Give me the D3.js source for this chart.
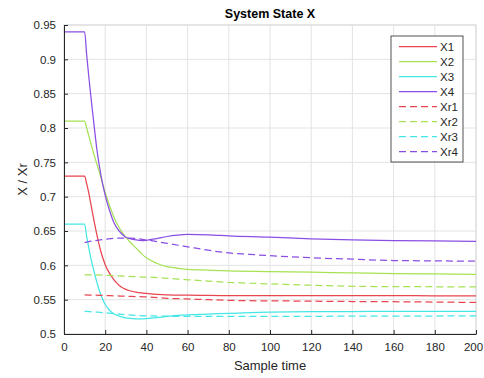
<!DOCTYPE html>
<html>
<head>
<meta charset="utf-8">
<script src="https://cdn.jsdelivr.net/npm/d3@7"></script>
<style>
  body { margin: 0; background: #fff; }
  text { font-family: "Liberation Sans", Arial, sans-serif; }
</style>
</head>
<body>
<svg id="chart" width="484" height="378"></svg>
<script>
// sample times for the states
const tState = [0, 10, 11, 12, 13, 14, 16, 18, 20, 22, 24, 26, 28, 30, 32, 35, 38, 40, 45, 50, 55, 60, 70, 80, 100, 120, 140, 160, 180, 200];
const x1 = [0.73, 0.73, 0.719, 0.706, 0.69, 0.674, 0.644, 0.619, 0.601, 0.589, 0.58, 0.573, 0.568, 0.565, 0.563, 0.561, 0.5597, 0.559, 0.5578, 0.557, 0.5567, 0.5565, 0.5562, 0.556, 0.556, 0.556, 0.556, 0.5558, 0.5557, 0.5557];
const x2 = [0.81, 0.81, 0.8, 0.789, 0.778, 0.767, 0.747, 0.727, 0.706, 0.688, 0.672, 0.659, 0.649, 0.641, 0.634, 0.625, 0.616, 0.611, 0.603, 0.598, 0.596, 0.594, 0.593, 0.592, 0.591, 0.59, 0.589, 0.588, 0.5875, 0.587];
const x3 = [0.66, 0.66, 0.642, 0.626, 0.611, 0.598, 0.575, 0.556, 0.543, 0.535, 0.53, 0.527, 0.525, 0.5235, 0.5228, 0.5222, 0.522, 0.5225, 0.524, 0.5255, 0.527, 0.528, 0.529, 0.53, 0.532, 0.5325, 0.5327, 0.533, 0.533, 0.533];
const x4 = [0.94, 0.94, 0.907, 0.876, 0.847, 0.82, 0.768, 0.73, 0.702, 0.681, 0.664, 0.653, 0.646, 0.641, 0.639, 0.637, 0.636, 0.6365, 0.639, 0.642, 0.644, 0.645, 0.6445, 0.643, 0.641, 0.6385, 0.637, 0.636, 0.6355, 0.635];

// reference values start at t = 10
const tRef = [10, 15, 20, 25, 30, 35, 40, 50, 60, 70, 80, 90, 100, 120, 140, 160, 180, 200];
const xr1 = [0.557, 0.5565, 0.556, 0.5555, 0.555, 0.5545, 0.554, 0.552, 0.551, 0.55, 0.549, 0.5485, 0.5483, 0.5478, 0.5473, 0.547, 0.5465, 0.546];
const xr2 = [0.586, 0.586, 0.5855, 0.585, 0.584, 0.5835, 0.583, 0.581, 0.579, 0.577, 0.575, 0.574, 0.573, 0.571, 0.5695, 0.569, 0.5688, 0.5685];
const xr3 = [0.533, 0.532, 0.531, 0.5295, 0.528, 0.527, 0.5265, 0.526, 0.5255, 0.5255, 0.5255, 0.5255, 0.5255, 0.5257, 0.526, 0.526, 0.5262, 0.5265];
const xr4 = [0.633, 0.636, 0.638, 0.6395, 0.6395, 0.639, 0.637, 0.632, 0.627, 0.622, 0.618, 0.616, 0.614, 0.611, 0.609, 0.607, 0.6065, 0.606];

const xTicks = d3.range(0, 201, 20);
const yTicks = [0.5, 0.55, 0.6, 0.65, 0.7, 0.75, 0.8, 0.85, 0.9, 0.95];

const colors = ["#e8454f", "#a6e254", "#45e6e6", "#8a4ee2"];
const series = [
  { name: "X1", t: tState, v: x1, color: colors[0], dash: null },
  { name: "X2", t: tState, v: x2, color: colors[1], dash: null },
  { name: "X3", t: tState, v: x3, color: colors[2], dash: null },
  { name: "X4", t: tState, v: x4, color: colors[3], dash: null },
  { name: "Xr1", t: tRef, v: xr1, color: colors[0], dash: "7,4" },
  { name: "Xr2", t: tRef, v: xr2, color: colors[1], dash: "7,4" },
  { name: "Xr3", t: tRef, v: xr3, color: colors[2], dash: "7,4" },
  { name: "Xr4", t: tRef, v: xr4, color: colors[3], dash: "7,4" }
];

const marge = { top: 25, bottom: 44, left: 64, right: 8 };
const width = 484, height = 378;
const w = width - marge.left - marge.right;
const h = height - marge.top - marge.bottom;

const svg = d3.select("#chart");
const g = svg.append("g").attr("transform", `translate(${marge.left},${marge.top})`);

const xScale = d3.scaleLinear().domain([0, 200]).range([0, w]);
const yScale = d3.scaleLinear().domain([0.5, 0.95]).range([h, 0]);

// grid
g.append("g").selectAll("line").data(xTicks).enter().append("line")
  .attr("x1", d => xScale(d)).attr("x2", d => xScale(d))
  .attr("y1", 0).attr("y2", h)
  .attr("stroke", "#e3e3e3").attr("stroke-width", 1);
g.append("g").selectAll("line").data(yTicks).enter().append("line")
  .attr("x1", 0).attr("x2", w)
  .attr("y1", d => yScale(d)).attr("y2", d => yScale(d))
  .attr("stroke", "#e3e3e3").attr("stroke-width", 1);

// box top/right
g.append("rect").attr("x", 0).attr("y", 0).attr("width", w).attr("height", h)
  .attr("fill", "none").attr("stroke", "#d9d9d9");

// lines
const line = d3.line().curve(d3.curveMonotoneX);
series.forEach(s => {
  g.append("path")
    .attr("d", line(s.t.map((t, i) => [xScale(t), yScale(s.v[i])])))
    .attr("fill", "none")
    .attr("stroke", s.color)
    .attr("stroke-width", 1.25)
    .attr("stroke-dasharray", s.dash);
});

// axes (ticks point inwards like matlab)
const xAxis = d3.axisBottom(xScale).tickValues(xTicks).tickSize(-4).tickPadding(9).tickSizeOuter(0);
const yAxis = d3.axisLeft(yScale).tickValues(yTicks).tickSize(-4).tickPadding(8).tickSizeOuter(0)
  .tickFormat(d => d3.format("")(+d.toFixed(2)));

const gx = g.append("g").attr("transform", `translate(0,${h})`).call(xAxis);
const gy = g.append("g").call(yAxis);
[gx, gy].forEach(a => {
  a.select(".domain").attr("stroke", "#262626");
  a.selectAll(".tick line").attr("stroke", "#262626");
  a.selectAll(".tick text").attr("fill", "#262626").attr("font-size", 11.5)
    .attr("font-family", '"Liberation Sans", Arial, sans-serif');
});
// keep the last label inside the window
gx.selectAll(".tick text").filter(d => d === 200).attr("dx", -3);

// labels
svg.append("text").attr("x", marge.left + w / 2).attr("y", 18)
  .attr("text-anchor", "middle").attr("font-weight", "bold").attr("font-size", 12.5)
  .attr("fill", "#000").text("System State X");
svg.append("text").attr("x", marge.left + w / 2).attr("y", 370)
  .attr("text-anchor", "middle").attr("font-size", 13).attr("fill", "#262626").text("Sample time");
svg.append("text").attr("transform", `translate(27,${marge.top + h / 2}) rotate(-90)`)
  .attr("text-anchor", "middle").attr("font-size", 13).attr("fill", "#262626").text("X / Xr");

// legend
const lg = svg.append("g").attr("transform", "translate(391,36)");
lg.append("rect").attr("width", 72).attr("height", 126)
  .attr("fill", "#fff").attr("stroke", "#262626").attr("stroke-width", 0.8);
const item = lg.selectAll(".item").data(series).enter().append("g")
  .attr("transform", (d, i) => `translate(0,${10.7 + i * 15})`);
item.append("line").attr("x1", 8).attr("x2", 46)
  .attr("stroke", d => d.color).attr("stroke-width", 1.25)
  .attr("stroke-dasharray", d => d.dash);
item.append("text").attr("x", 49).attr("y", 4).attr("font-size", 11.5)
  .attr("fill", "#262626").text(d => d.name);
</script>
</body>
</html>
